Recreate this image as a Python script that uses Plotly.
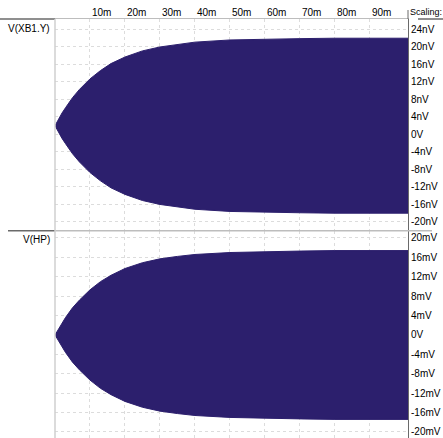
import plotly.graph_objects as go

# ---- data ----
t_ms = [0, 1, 2, 3, 5, 7, 10, 13, 16, 20, 25, 30, 35, 40, 50, 60, 70, 80, 90, 100.9]
xb1_upper_nV = [1.9, 3.4, 4.8, 6.0, 8.3, 10.2, 12.6, 14.5, 16.1, 17.6, 19.0, 19.9, 20.5, 21.0, 21.5, 21.7, 21.8, 21.9, 21.9, 21.9]
xb1_lower_nV = [1.9, 0.4, -1.0, -2.2, -4.5, -6.4, -8.8, -10.7, -12.3, -13.8, -15.2, -16.1, -16.7, -17.2, -17.7, -17.9, -18.0, -18.1, -18.1, -18.1]
hp_upper_mV = [0, 1.3, 2.5, 3.6, 5.6, 7.2, 9.3, 11.0, 12.3, 13.7, 14.9, 15.7, 16.2, 16.6, 17.0, 17.2, 17.3, 17.4, 17.4, 17.4]
hp_lower_mV = [0, -1.3, -2.5, -3.6, -5.6, -7.2, -9.3, -11.0, -12.3, -13.7, -14.9, -15.7, -16.2, -16.6, -17.0, -17.2, -17.3, -17.4, -17.4, -17.4]

x_tick_vals = [10, 20, 30, 40, 50, 60, 70, 80, 90]
x_tick_text = ["10m", "20m", "30m", "40m", "50m", "60m", "70m", "80m", "90m"]
y1_tick_vals = [24, 20, 16, 12, 8, 4, 0, -4, -8, -12, -16, -20]
y1_tick_text = ["24nV", "20nV", "16nV", "12nV", "8nV", "4nV", "0V", "-4nV", "-8nV", "-12nV", "-16nV", "-20nV"]
y2_tick_vals = [20, 16, 12, 8, 4, 0, -4, -8, -12, -16, -20]
y2_tick_text = ["20mV", "16mV", "12mV", "8mV", "4mV", "0V", "-4mV", "-8mV", "-12mV", "-16mV", "-20mV"]

FILL = "#2c1f6d"
GRID = "#dcdcdc"
FONT = "Liberation Sans, Arial, sans-serif"

fig = go.Figure()
for up, lo, xa, ya in [(xb1_upper_nV, xb1_lower_nV, "x", "y"), (hp_upper_mV, hp_lower_mV, "x2", "y2")]:
    fig.add_trace(go.Scatter(x=t_ms, y=up, mode="lines", line=dict(color=FILL, width=1),
                             xaxis=xa, yaxis=ya, showlegend=False, hoverinfo="skip"))
    fig.add_trace(go.Scatter(x=t_ms, y=lo, mode="lines", line=dict(color=FILL, width=1),
                             fill="tonexty", fillcolor=FILL,
                             xaxis=xa, yaxis=ya, showlegend=False, hoverinfo="skip"))

W, H = 443, 438
L, R, T, B = 55, 35, 19, 0
PW, PH = W - L - R, H - T - B
split = (H - 230.7) / PH

def px(xpix):
    return (xpix - L) / PW

def py(ypix):
    return (H - ypix) / PH

xcommon = dict(range=[0, 100.9], tickvals=x_tick_vals, showgrid=True, gridcolor=GRID,
               griddash="3px,3px", gridwidth=1, zeroline=False, ticks="", showticklabels=False)
ycommon = dict(side="right", showgrid=True, gridcolor=GRID, griddash="3px,3px", gridwidth=1,
               zeroline=False, ticks="", showline=True, linecolor="#6a6a6a", linewidth=1,
               tickfont=dict(family=FONT, size=10, color="#000"))

fig.update_layout(
    width=W, height=H,
    margin=dict(l=L, r=R, t=T, b=B),
    paper_bgcolor="white", plot_bgcolor="white",
    font=dict(family=FONT, size=10, color="#000"),
    xaxis=dict(domain=[0, 1], anchor="y", side="top", showline=True, linecolor="#bdbdbd", **xcommon),
    xaxis2=dict(domain=[0, 1], anchor="y2", matches="x", showline=False, **xcommon),
    yaxis=dict(domain=[split, 1], anchor="x", range=[-22.10, 26.29],
               tickvals=y1_tick_vals, ticktext=y1_tick_text, **ycommon),
    yaxis2=dict(domain=[0, split], anchor="x2", range=[-21.24, 21.5],
                tickvals=y2_tick_vals, ticktext=y2_tick_text, **ycommon),
)

annotations = []
for v, txt in zip(x_tick_vals, x_tick_text):
    annotations.append(dict(x=v, xref="x", y=1, yref="paper", yanchor="bottom", xanchor="left",
                            yshift=-1, text=txt, showarrow=False, font=dict(family=FONT, size=10)))
annotations.append(dict(x=0, xref="paper", xanchor="right", xshift=-3, y=py(28), yref="paper",
                        yanchor="middle", text="V(XB1.Y)", showarrow=False, font=dict(family=FONT, size=10)))
annotations.append(dict(x=0, xref="paper", xanchor="right", xshift=-3, y=py(239), yref="paper",
                        yanchor="middle", text="V(HP)", showarrow=False, font=dict(family=FONT, size=10)))
annotations.append(dict(x=px(409), xref="paper", xanchor="left", y=py(12.5), yref="paper",
                        yanchor="middle", text="Scaling:", showarrow=False, borderpad=0,
                        font=dict(family=FONT, size=9)))
fig.update_layout(annotations=annotations)

shapes = [
    dict(type="line", xref="paper", yref="paper", x0=px(0), x1=0, y0=1, y1=1, line=dict(color="#6a6a6a", width=1.5)),
    dict(type="line", xref="paper", yref="paper", x0=px(418), x1=px(443), y0=1, y1=1, line=dict(color="#6a6a6a", width=1.5)),
    dict(type="line", xref="paper", yref="paper", x0=1, x1=1, y0=1, y1=py(10), line=dict(color="#6a6a6a", width=1)),
    dict(type="line", xref="paper", yref="paper", x0=px(8), x1=0, y0=split, y1=split, line=dict(color="#6a6a6a", width=1.5)),
    dict(type="line", xref="paper", yref="paper", x0=0, x1=px(432), y0=split, y1=split, line=dict(color="#bdbdbd", width=1.5)),
    dict(type="line", xref="paper", yref="paper", x0=0, x1=0, y0=0, y1=1, line=dict(color="#cfcfcf", width=1.5)),
]
fig.update_layout(shapes=shapes)

fig.write_html("out.html",
               config={"displayModeBar": False},
               post_script="document.body.style.margin='0';document.body.style.overflow='hidden';")
